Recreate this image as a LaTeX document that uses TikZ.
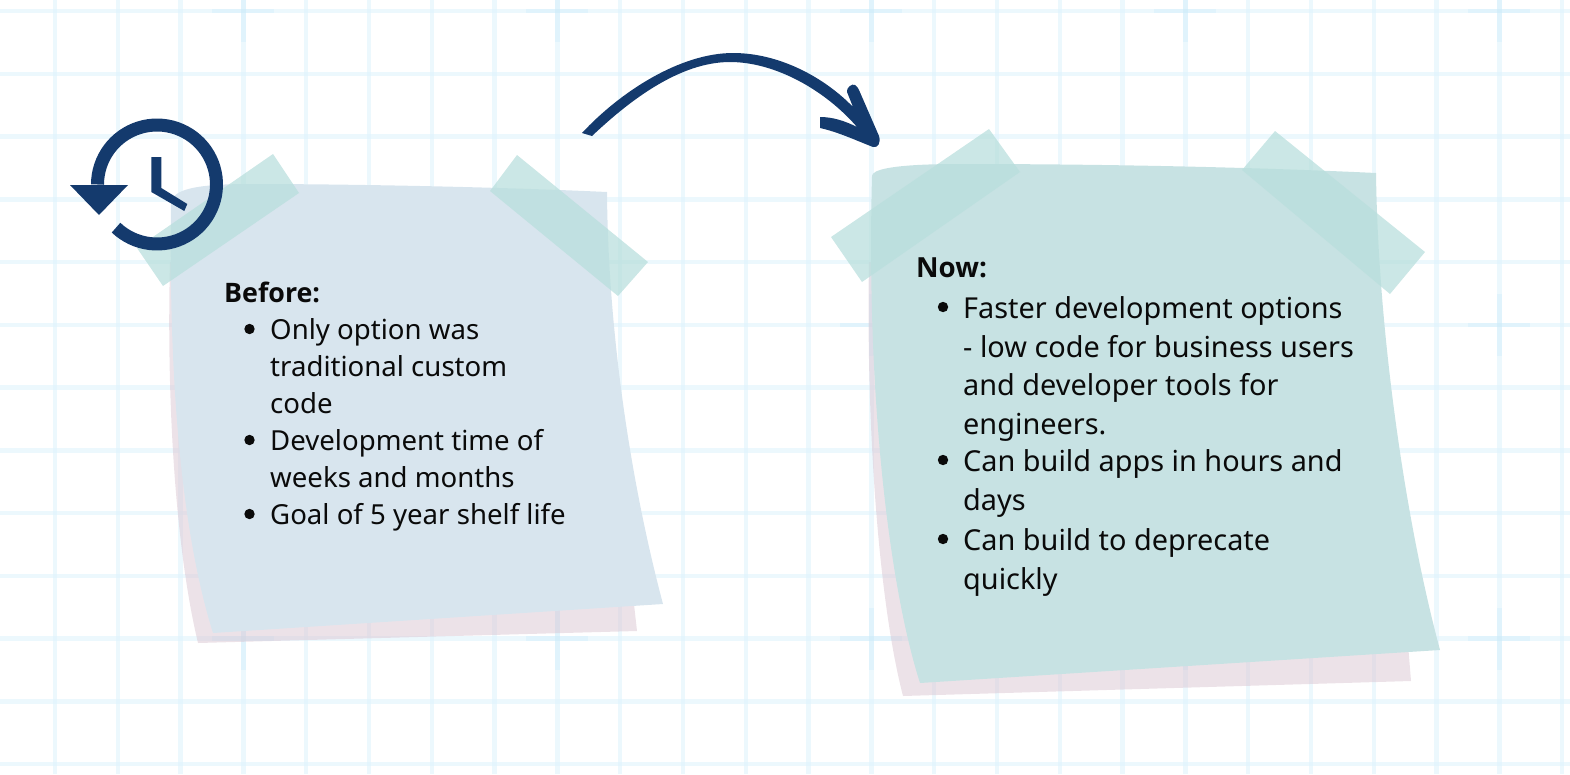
\documentclass[tikz,border=0pt]{standalone}
\usepackage{fontspec}
\setmainfont{Noto Sans}
\newfontfamily\headfont{Open Sans}
\definecolor{gridblue}{HTML}{DDF3FC}
\definecolor{crossblue}{HTML}{C6E9F8}
\definecolor{backpink}{HTML}{DAC6D2}
\definecolor{noteblue}{HTML}{D8E5EE}
\definecolor{noteteal}{HTML}{C7E2E3}
\definecolor{tapeteal}{HTML}{B9DFDD}
\definecolor{navy}{HTML}{143A6D}
\definecolor{inkblack}{HTML}{0A0A0A}
\begin{document}
\begin{tikzpicture}[
      x=1pt, y=-1pt, % pixel units, y downwards
      gridline/.style={draw=gridblue, line width=4.5pt, opacity=0.55},
      crossline/.style={draw=crossblue, line width=4.5pt, opacity=0.3},
      backnote/.style={fill=backpink, fill opacity=0.5},
      tape/.style={fill=tapeteal, fill opacity=0.75},
      smalltext/.style={font=\fontsize{27.6}{37.1}\selectfont, text=inkblack, inner sep=0pt, anchor=north west, align=left},
      bigtext/.style={font=\fontsize{28.85}{38.9}\selectfont, text=inkblack, inner sep=0pt, anchor=north west, align=left},
      smallhead/.style={font=\fontsize{26.8}{37}\selectfont, text=inkblack, inner sep=0pt, anchor=north west},
      bighead/.style={font=\fontsize{27.7}{38}\selectfont, text=inkblack, inner sep=0pt, anchor=north west},
      notedot/.style={circle, fill=inkblack, inner sep=0pt, minimum size=10.4pt},
  ]
    \useasboundingbox (0,0) rectangle (1570,774);
    % grid paper
    \foreach \gx in {0,...,24} {
      \draw[gridline] ({55+62.8*\gx},0) -- ({55+62.8*\gx},774);
    }
    \foreach \gy in {0,...,12} {
      \draw[gridline] (0,{11+62.75*\gy}) -- (1570,{11+62.75*\gy});
    }
    % darker crosses on the grid
    \foreach \cx in {243.4,557.4,871.4,1185.4,1499.4} {
      \foreach \cy in {11,324.75,638.5} {
        \draw[crossline] ({\cx-31},\cy) -- ({\cx+31},\cy);
        \draw[crossline] (\cx,{max(\cy-31,0)}) -- (\cx,{\cy+31});
      }
    }
    % back sheets
    \path[backnote] (170,262) .. controls (166,420) and (178,560) .. (198,643)
      -- (637,631) -- (600,300) -- cycle;
    \path[backnote] (869,262) .. controls (866,420) and (878,600) .. (903,696)
      -- (1411,681) -- (1380,300) -- cycle;
    % front sheets
    \fill[noteblue] (171,205) .. controls (171,192) and (185,184) .. (250,184)
      .. controls (350,184) and (500,187) .. (607,192)
      .. controls (608,330) and (630,480) .. (663,604)
      -- (213,633) .. controls (190,560) and (168,430) .. (171,205) -- cycle;
    \fill[noteteal] (872,176) .. controls (872,170) and (890,164) .. (960,164)
      .. controls (1100,164) and (1250,167) .. (1376,173)
      .. controls (1378,330) and (1405,520) .. (1440,650)
      -- (920,683) .. controls (890,590) and (866,400) .. (872,176) -- cycle;
    % tapes
    \fill[tape] (273,154) -- (299,193) -- (163,286) -- (137,248) -- cycle;
    \fill[tape] (517,155) -- (648,262) -- (618,296) -- (490,191) -- cycle;
    \fill[tape] (989,129) -- (1020,172) -- (862,282) -- (831,237) -- cycle;
    \fill[tape] (1275,131) -- (1425,252) -- (1390,294) -- (1242,170) -- cycle;
    % clock
    \draw[navy, line width=13pt] plot[domain=180:-133.5, samples=70]
      ({157+59.5*cos(\x)},{184.5-59.5*sin(\x)});
    \fill[navy] (70,185) -- (128,185) -- (99,215) -- cycle;
    \fill[navy] (151.3,157) -- (161.3,157) -- (161.3,188) -- (187.3,204)
      -- (184.3,211) -- (151.3,192) -- cycle;
    % curved arrow
    \fill[navy] (582,133) .. controls (620,92) and (680,53) .. (733,53)
      .. controls (780,53) and (825,78) .. (853,107)
      -- (847,92) .. controls (846,88) and (852,83) .. (855,85)
      .. controls (857,86) and (858,88) .. (859,90)
      -- (879,136) .. controls (881,143) and (878,148) .. (873,147)
      .. controls (855,140) and (838,132) .. (820,128)
      -- (820,117) .. controls (833,117) and (845,121) .. (857,127)
      .. controls (825,90) and (775,62) .. (730,62)
      .. controls (680,62) and (630,100) .. (592,136) -- cycle;
    % left note text
    \node[smallhead] (before) at (224,281.5) {\headfont\bfseries Before:};
    \node[notedot] (dotonly) at (249.5,329) {};
    \node[smalltext] (itemonly) at (270,318.5) {Only option was\\traditional custom\\code};
    \node[notedot] (dotdev) at (249.5,440) {};
    \node[smalltext] (itemdev) at (270,429.5) {Development time of\\weeks and months};
    \node[notedot] (dotgoal) at (249.5,514) {};
    \node[smalltext] (itemgoal) at (270,503.5) {Goal of 5 year shelf life};
    % right note text
    \node[bighead] (now) at (916,258) {\headfont\bfseries Now:};
    \node[notedot] (dotfast) at (943,307) {};
    \node[bigtext] (itemfast) at (963,296) {Faster development options\\- low code for business users\\and developer tools for\\engineers.};
    \node[notedot] (dotapps) at (943,460) {};
    \node[bigtext] (itemapps) at (963,449) {Can build apps in hours and\\days};
    \node[notedot] (dotdepr) at (943,539) {};
    \node[bigtext] (itemdepr) at (963,528) {Can build to deprecate\\quickly};
\end{tikzpicture}
\end{document}
